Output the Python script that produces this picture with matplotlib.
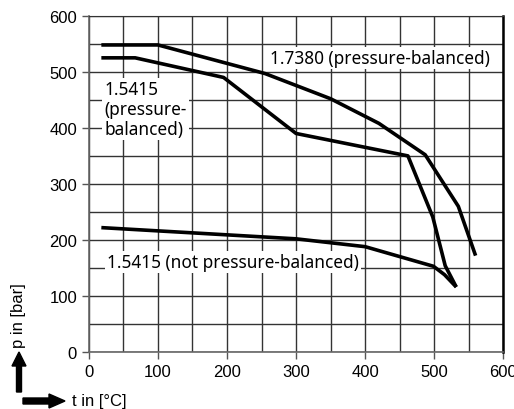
import matplotlib.pyplot as plt
from matplotlib.patches import FancyArrow
from matplotlib.transforms import IdentityTransform
from matplotlib.ticker import MultipleLocator

# 1.7380 (pressure-balanced)
t_1738 = [18, 100, 255, 350, 420, 487, 535, 560]
p_1738 = [548, 548, 497, 452, 408, 352, 260, 172]

# 1.5415 (pressure-balanced)
t_1541 = [18, 67, 195, 300, 462, 498, 516, 532]
p_1541 = [525, 525, 490, 390, 350, 241, 154, 116]

# 1.5415 (not pressure-balanced)
t_1541n = [18, 300, 400, 499, 515, 532]
p_1541n = [222, 202, 188, 153, 138, 116]

fig = plt.figure(figsize=(5.14, 4.10), dpi=100)
ax = fig.add_axes([0.173, 0.139, 0.806, 0.820])

ax.set_xlim(0, 600)
ax.set_ylim(0, 600)
ax.xaxis.set_major_locator(MultipleLocator(100))
ax.yaxis.set_major_locator(MultipleLocator(100))
ax.xaxis.set_minor_locator(MultipleLocator(50))
ax.yaxis.set_minor_locator(MultipleLocator(50))
ax.grid(which='both', color='#333333', linewidth=1.0)
ax.set_axisbelow(True)
ax.tick_params(which='major', direction='out', length=5, width=1, color='#555555',
               labelsize=12)
ax.tick_params(which='minor', length=0)
for lab in ax.get_xticklabels() + ax.get_yticklabels():
    lab.set_fontfamily('Liberation Sans')
for s in ['left', 'bottom']:
    ax.spines[s].set_color('#666666')
    ax.spines[s].set_linewidth(1.2)
ax.spines['right'].set_linewidth(1.8)
ax.spines['top'].set_color('#333333')

lw = 2.6
ax.plot(t_1738, p_1738, color='black', lw=lw, solid_capstyle='butt', zorder=3)
ax.plot(t_1541, p_1541, color='black', lw=lw, solid_capstyle='butt', zorder=3)
ax.plot(t_1541n, p_1541n, color='black', lw=lw, solid_capstyle='butt', zorder=3)

fam = 'Noto Sans'
box = dict(facecolor='white', edgecolor='none', pad=1.5)
ax.text(262, 525, '1.7380 (pressure-balanced)', fontsize=12.4, va='center', ha='left',
        family=fam, bbox=box, zorder=2)
ax.text(22, 434, '1.5415\n(pressure-\nbalanced)', fontsize=12.4, va='center', ha='left',
        family=fam, linespacing=1.15, bbox=box, zorder=2)
ax.text(26, 161, '1.5415 (not pressure-balanced)', fontsize=12.4, va='center', ha='left',
        family=fam, bbox=box, zorder=2)

# axis labels with arrows (figure pixels, origin bottom-left)
fig.text(18 / 514, 1 - 316 / 410, 'p in [bar]', rotation=90, fontsize=12,
         ha='center', va='center', family='Liberation Sans')
fig.text(72 / 514, 1 - 402 / 410, 't in [°C]', fontsize=12, ha='left', va='center',
         family='Liberation Sans')
fig.add_artist(FancyArrow(19, 17, 0, 40, width=5, head_width=14, head_length=14,
                          length_includes_head=True, color='black',
                          transform=IdentityTransform()))
fig.add_artist(FancyArrow(23, 8, 42, 0, width=6, head_width=14, head_length=16,
                          length_includes_head=True, color='black',
                          transform=IdentityTransform()))

fig.savefig('out.png', dpi=100)
